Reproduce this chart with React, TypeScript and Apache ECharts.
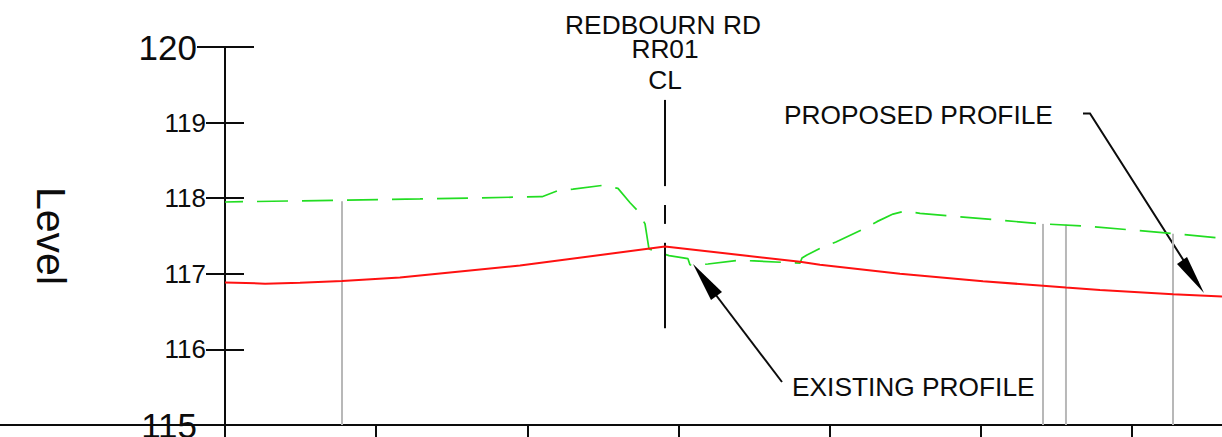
import React, { useEffect, useRef } from "react";
import * as echarts from "echarts";

const yTicks = [115, 116, 117, 118, 119, 120];
const xTicks = [0, 10, 20, 30, 40, 50, 60];

const proposedProfile = [
  [0, 116.885], [2.65, 116.87], [4.96, 116.88], [7.74, 116.905], [11.57, 116.95], [14.88, 117.017],
  [19.51, 117.11], [29.1, 117.36], [38.03, 117.16], [39.35, 117.12],
  [44.64, 117.0], [50.13, 116.9], [54.1, 116.843], [55.62, 116.82], [57.87, 116.786], [62.7, 116.73], [65.94, 116.7],
];

const existingProfile = [
  [0, 117.95], [12.9, 117.99], [20.83, 118.02], [20.97, 118.02], [22.02, 118.1], [23.02, 118.12],
  [25.0, 118.17], [25.99, 118.13], [26.79, 117.94], [27.31, 117.83], [27.78, 117.66], [28.04, 117.33],
  [28.44, 117.3], [29.37, 117.24], [30.62, 117.2], [30.75, 117.12], [30.95, 117.11], [31.94, 117.13],
  [33.99, 117.18], [34.99, 117.17], [37.04, 117.15], [38.03, 117.14], [38.16, 117.21], [38.49, 117.25],
  [39.48, 117.35], [40.41, 117.42], [42.2, 117.59], [43.12, 117.69], [44.18, 117.79], [44.97, 117.83],
  [45.97, 117.8], [54.1, 117.66], [56.94, 117.63], [59.92, 117.58], [62.9, 117.53], [65.94, 117.47],
];

const stationX = [7.74, 54.1, 55.62, 62.7];
const stationTop = [117.96, 117.66, 117.65, 117.53];

const centreLineX = 29.1;
const centreLineRuns = [
  [119.3, 118.16],
  [117.91, 117.66],
  [117.41, 116.28],
];

const INK = "#0c0c0c";
const FONT = '"Liberation Sans", Arial, sans-serif';

const lineSeries = (data: number[][], color: string, width: number, extra: any = {}) => ({
  type: "line",
  data,
  symbol: "none",
  silent: true,
  clip: false,
  lineStyle: { color, width, ...extra },
});

const txt = (text: string, x: number, y: number, align = "center") => ({
  type: "text",
  x,
  y,
  silent: true,
  style: { text, fontSize: 26.3, fontFamily: FONT, fill: INK, textAlign: align, textVerticalAlign: "middle" },
});

const seg = (points: number[][], width = 2) => ({
  type: "polyline",
  silent: true,
  shape: { points },
  style: { stroke: INK, lineWidth: width, fill: "none" },
});

const tri = (points: number[][]) => ({
  type: "polygon",
  silent: true,
  shape: { points },
  style: { fill: "#000000" },
});

const makeY = (inside: boolean, labels: boolean) => ({
  type: "value",
  min: yTicks[0],
  max: yTicks[yTicks.length - 1],
  interval: 1,
  position: "left",
  splitLine: { show: false },
  axisLine: { show: true, onZero: false, lineStyle: { color: INK, width: 2 } },
  axisTick: { show: true, inside, length: 19, lineStyle: { color: INK, width: 2 } },
  ...(labels
    ? {
        name: "Level",
        nameLocation: "middle",
        nameRotate: -90,
        nameGap: 154,
        nameTextStyle: { fontSize: 41, fontFamily: FONT, color: INK },
      }
    : {}),
  axisLabel: labels
    ? {
        show: true,
        margin: 19,
        color: INK,
        fontFamily: FONT,
        formatter: (v: number) => (v === 115 || v === 120 ? `{big|${v}}` : `{small|${v}}`),
        rich: {
          big: { fontSize: 35, fontFamily: FONT, color: INK, padding: [0, 9, 0, 0] },
          small: { fontSize: 26, fontFamily: FONT, color: INK },
        },
      }
    : { show: false },
});

export default function App() {
  const ref = useRef<HTMLDivElement>(null);
  useEffect(() => {
    const chart = echarts.init(ref.current!, undefined, { renderer: "svg" });
    chart.setOption({
      animation: false,
      backgroundColor: "#ffffff",
      grid: { left: 225, right: 0, top: 47, bottom: 12, containLabel: false, outerBoundsMode: "none" },
      xAxis: {
        type: "value",
        min: 0,
        max: 65.94,
        interval: 10,
        position: "bottom",
        splitLine: { show: false },
        axisLabel: { show: false },
        axisLine: { show: true, onZero: false, lineStyle: { color: INK, width: 2 } },
        axisTick: { show: true, customValues: xTicks, length: 12, lineStyle: { color: INK, width: 2 } },
      },
      yAxis: [makeY(false, true), makeY(true, false)],
      series: [
        ...stationX.map((x, i) => lineSeries([[x, 115], [x, stationTop[i]]], "#b8b8b8", 2)),
        lineSeries(existingProfile, "#22dd22", 1.7, { type: [31, 14], dashOffset: 13 }),
        ...centreLineRuns.map((r) => lineSeries([[centreLineX, r[0]], [centreLineX, r[1]]], INK, 2)),
        lineSeries(proposedProfile, "#ff1111", 2),
      ],
      graphic: [
        seg([[0, 425], [225, 425]]),
        seg([[225, 425], [225, 437]]),
        seg([[197, 47], [254, 47]]),
        txt("REDBOURN RD", 663, 25),
        txt("RR01", 665, 49),
        txt("CL", 665, 80),
        txt("PROPOSED PROFILE", 784, 115, "left"),
        txt("EXISTING PROFILE", 792, 387, "left"),
        seg([[782, 382], [700, 274]]),
        tri([[693, 264], [711, 300], [722, 292]]),
        seg([[1083, 113.5], [1090, 113.5], [1198, 283]]),
        tri([[1204, 293], [1177, 264], [1187, 257]]),
      ],
    });
    return () => chart.dispose();
  }, []);
  return <div ref={ref} style={{ position: "absolute", left: 0, top: 0, width: 1222, height: 437 }} />;
}
